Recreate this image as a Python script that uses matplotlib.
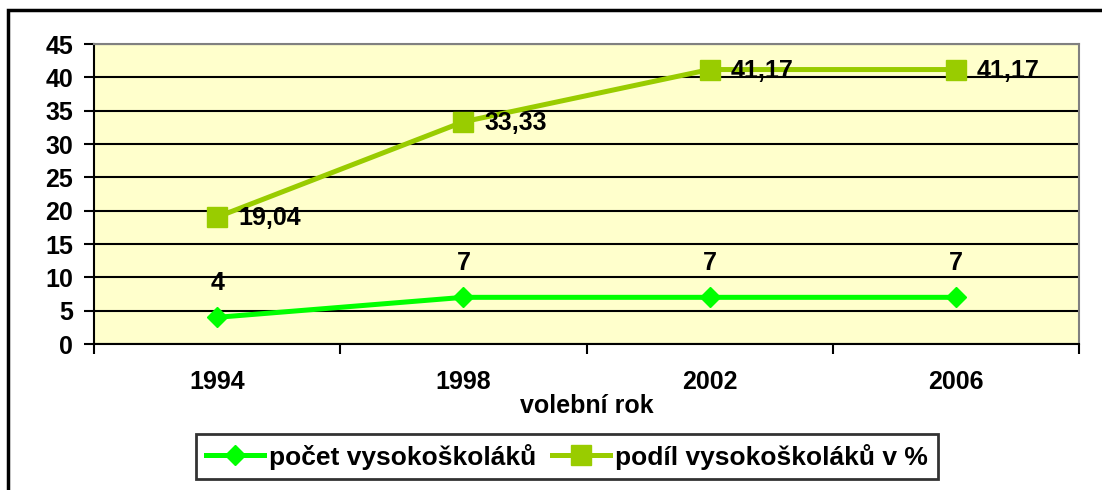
import matplotlib
matplotlib.use('Agg')
import matplotlib.pyplot as plt
from matplotlib.patches import Rectangle

# data
years = ['1994', '1998', '2002', '2006']
pocet = [4, 7, 7, 7]
podil = [19.04, 33.33, 41.17, 41.17]
podil_labels = ['19,04', '33,33', '41,17', '41,17']

plt.rcParams['font.family'] = ['Liberation Sans', 'DejaVu Sans']
plt.rcParams['font.weight'] = 'bold'
FS = 18

W, H = 1102, 490
fig = plt.figure(figsize=(W / 100, H / 100), dpi=100)

# outer chart frame
fig.patches.append(Rectangle((8 / W, -0.1), 1.2, 1 - 10 / H + 0.1,
                             transform=fig.transFigure, fill=False,
                             edgecolor='black', linewidth=2.5))

ax = fig.add_axes([94 / W, 1 - 344 / H, (1079 - 94) / W, (344 - 44) / H])
ax.set_facecolor('#FFFFCC')

x = list(range(len(years)))
ax.plot(x, pocet, color='#00FF00', linewidth=3.6, marker='D', markersize=10,
        label='počet vysokoškoláků', zorder=3)
ax.plot(x, podil, color='#99CC00', linewidth=3.6, marker='s', markersize=14,
        label='podíl vysokoškoláků v %', zorder=3)

for xi, v in zip(x, pocet):
    ax.annotate(str(v), (xi, v), xytext=(0, 16), textcoords='offset points',
                ha='center', va='bottom', fontsize=FS, fontweight='bold')
for xi, v, t in zip(x, podil, podil_labels):
    ax.annotate(t, (xi, v), xytext=(15, -1), textcoords='offset points',
                ha='left', va='center', fontsize=FS, fontweight='bold')

ax.set_xlim(-0.5, 3.5)
ax.set_ylim(0, 45)
ax.set_yticks(range(0, 46, 5))
ax.yaxis.grid(True, color='black', linewidth=1.5)
ax.set_axisbelow(True)

ax.set_xticks([i + 0.5 for i in range(-1, 4)], minor=False)
ax.set_xticklabels([])
ax.set_xticks(x, minor=True)
ax.set_xticklabels(years, minor=True)
ax.tick_params(axis='x', which='major', direction='out', length=7, width=1.5)
ax.tick_params(axis='x', which='minor', length=0, pad=19, labelsize=FS)
ax.tick_params(axis='y', direction='out', length=7, width=1.5, labelsize=FS, pad=8)
for lab in ax.get_xticklabels(minor=True) + ax.get_yticklabels():
    lab.set_fontweight('bold')

ax.set_xlabel('volební rok', fontsize=FS, fontweight='bold', labelpad=0)

for s in ['left', 'bottom']:
    ax.spines[s].set_color('black')
    ax.spines[s].set_linewidth(1.5)
for s in ['top', 'right']:
    ax.spines[s].set_color('#808080')
    ax.spines[s].set_linewidth(1.5)

leg = fig.legend(loc='center', bbox_to_anchor=(567 / W, 1 - 456.5 / H), ncol=2,
                 fontsize=19, frameon=True, fancybox=False, edgecolor='black',
                 handlelength=2.2, columnspacing=0.6, handletextpad=0.2,
                 borderpad=0.35, borderaxespad=0)
leg.get_frame().set_linewidth(2)
for t in leg.get_texts():
    t.set_fontweight('bold')

fig.savefig('out.png', dpi=100)
